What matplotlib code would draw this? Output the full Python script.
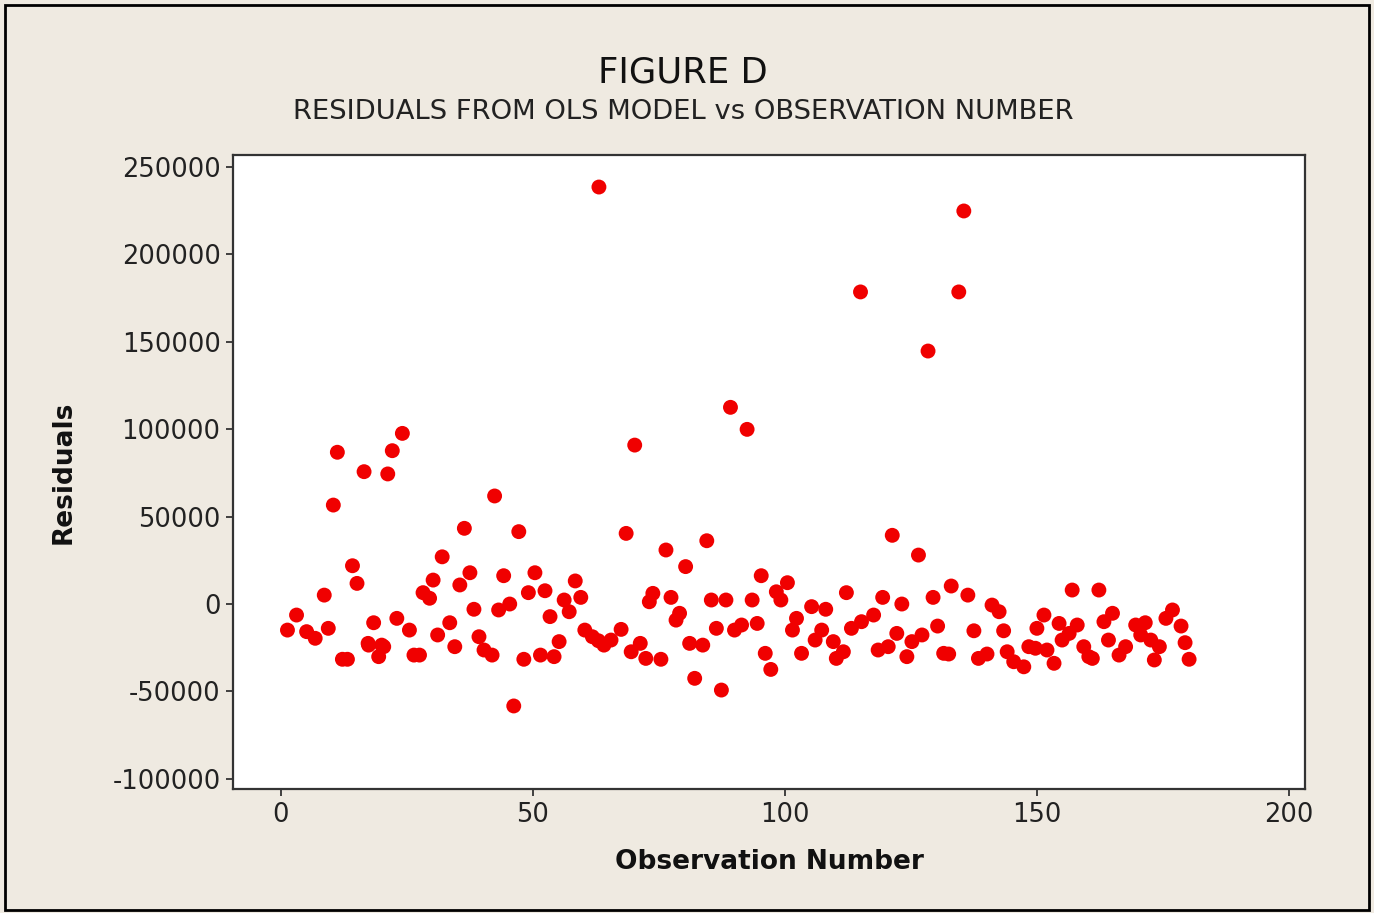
import matplotlib.pyplot as plt
from matplotlib.patches import Rectangle

# observation number and residual
obs = [1.3, 3.1, 5.1, 6.8, 8.6, 9.4, 10.4, 11.2, 12.2, 13.2,
       14.2, 15.1, 16.5, 17.4, 18.4, 19.4, 20.4, 21.2, 22.1, 23.0,
       24.1, 25.5, 26.4, 27.5, 28.2, 29.5, 30.2, 31.1, 32.0, 33.5,
       34.5, 35.5, 36.4, 37.5, 38.3, 39.3, 40.3, 41.9, 42.4, 43.2,
       44.2, 45.4, 46.2, 47.2, 48.2, 49.1, 50.4, 51.5, 52.4, 53.4,
       54.2, 55.2, 56.2, 57.2, 58.4, 59.5, 60.3, 61.8, 63.0, 63.1,
       64.1, 65.5, 67.5, 68.5, 69.5, 70.2, 71.3, 72.4, 73.1, 73.8,
       75.4, 76.4, 77.4, 78.4, 79.1, 80.3, 81.1, 82.1, 83.7, 84.5,
       85.4, 86.4, 87.4, 88.3, 89.2, 90.0, 91.4, 92.5, 93.5, 94.5,
       95.3, 96.1, 97.2, 98.3, 99.2, 100.5, 101.5, 102.3, 103.3, 105.3,
       106.0, 107.3, 108.1, 109.6, 110.2, 111.6, 112.2, 113.2, 115.0, 115.2,
       117.6, 118.5, 119.4, 120.5, 121.3, 122.2, 123.2, 124.2, 125.2, 126.5,
       127.2, 128.4, 129.4, 130.3, 131.5, 132.5, 133.0, 134.5, 135.5, 136.3,
       137.5, 138.4, 140.1, 141.1, 142.5, 143.4, 144.1, 145.4, 147.4, 148.4,
       149.7, 150.0, 151.4, 152.0, 153.4, 154.4, 155.0, 156.4, 157.0, 158.0,
       159.3, 160.3, 161.0, 162.3, 163.3, 164.2, 165.0, 166.3, 167.6, 169.6,
       170.6, 171.5, 172.6, 173.3, 174.3, 175.6, 176.9, 178.6, 179.4, 180.2,
       17.3, 20.0]
resid = [-14900, -6300, -15800, -19600, 5100, -13900, 56600, 86800, -31600, -31600,
         21900, 11800, 75700, -23500, -10700, -30100, -24400, 74400, 87700, -8200,
         97600, -14900, -29200, -29200, 6500, 3300, 13700, -17700, 27000, -10700,
         -24400, 10900, 43300, 17900, -3000, -18700, -26300, -29200, 61800, -3400,
         16200, 0, -58300, 41400, -31600, 6500, 17900, -29200, 7600, -7200,
         -30100, -21500, 2300, -4400, 13200, 3800, -14900, -18700, -21000, 238500,
         -23500, -20600, -14500, 40400, -27300, 90900, -22500, -31100, 1300, 6100,
         -31600, 30900, 3800, -9200, -5300, 21400, -22500, -42500, -23500, 36200,
         2300, -13900, -49200, 2300, 112500, -14900, -12000, 99900, 2300, -11100,
         16200, -28200, -37400, 7000, 2300, 12200, -14900, -8200, -28200, -1500,
         -20600, -14900, -3000, -21500, -31100, -27300, 6500, -13900, 178500, -10100,
         -6300, -26300, 3800, -24400, 39300, -16800, 0, -30100, -21500, 28000,
         -17700, 144700, 3800, -12600, -28200, -28600, 10300, 178500, 224800, 5100,
         -15300, -31100, -28600, -600, -4400, -15300, -27300, -33000, -35900, -24400,
         -25300, -13900, -6300, -26300, -33900, -11100, -20600, -16800, 8000, -12000,
         -24400, -30100, -31100, 8000, -10100, -20600, -5300, -29200, -24400, -12000,
         -17700, -10700, -20600, -32000, -24400, -8200, -3400, -12600, -22100, -31600,
         -22500, -23500]

xticks = [0, 50, 100, 150, 200]
yticks = [-100000, -50000, 0, 50000, 100000, 150000, 200000, 250000]

bg = '#efeae1'
fig = plt.figure(figsize=(13.74, 9.13), dpi=100, facecolor=bg)
fig.patches.append(Rectangle((0.004, 0.003), 0.992, 0.991, transform=fig.transFigure,
                             fill=False, edgecolor='black', linewidth=2))

ax = fig.add_axes([0.1696, 0.1358, 0.7802, 0.6944])
ax.set_facecolor('white')
ax.scatter(obs, resid, s=115, color='#f00000', edgecolors='none', zorder=3)

ax.set_xlim(-9.5, 203.2)
ax.set_ylim(-105800, 256800)
ax.set_xticks(xticks)
ax.set_yticks(yticks)
ax.set_xticklabels([str(t) for t in xticks])
ax.set_yticklabels([str(t) for t in yticks])
ax.tick_params(direction='out', length=5, width=1.3, color='#333333',
               labelsize=18.5, labelcolor='#222222', pad=4)
ax.tick_params(top=False, right=False)
for sp in ax.spines.values():
    sp.set_linewidth(1.6)
    sp.set_color('#333333')

ax.set_xlabel('Observation Number', fontsize=19, fontweight='bold', color='#111111')
ax.set_ylabel('Residuals', fontsize=19, fontweight='bold', color='#111111')
ax.xaxis.set_label_coords(0.5, -0.094)
ax.yaxis.set_label_coords(-0.146, 0.5)

fig.text(0.497, 0.921, 'FIGURE D', ha='center', va='center', fontsize=25.5, color='#111111')
fig.text(0.497, 0.877, 'RESIDUALS FROM OLS MODEL vs OBSERVATION NUMBER',
         ha='center', va='center', fontsize=19.7, color='#222222')

fig.savefig('out.png', dpi=100, facecolor=bg)
